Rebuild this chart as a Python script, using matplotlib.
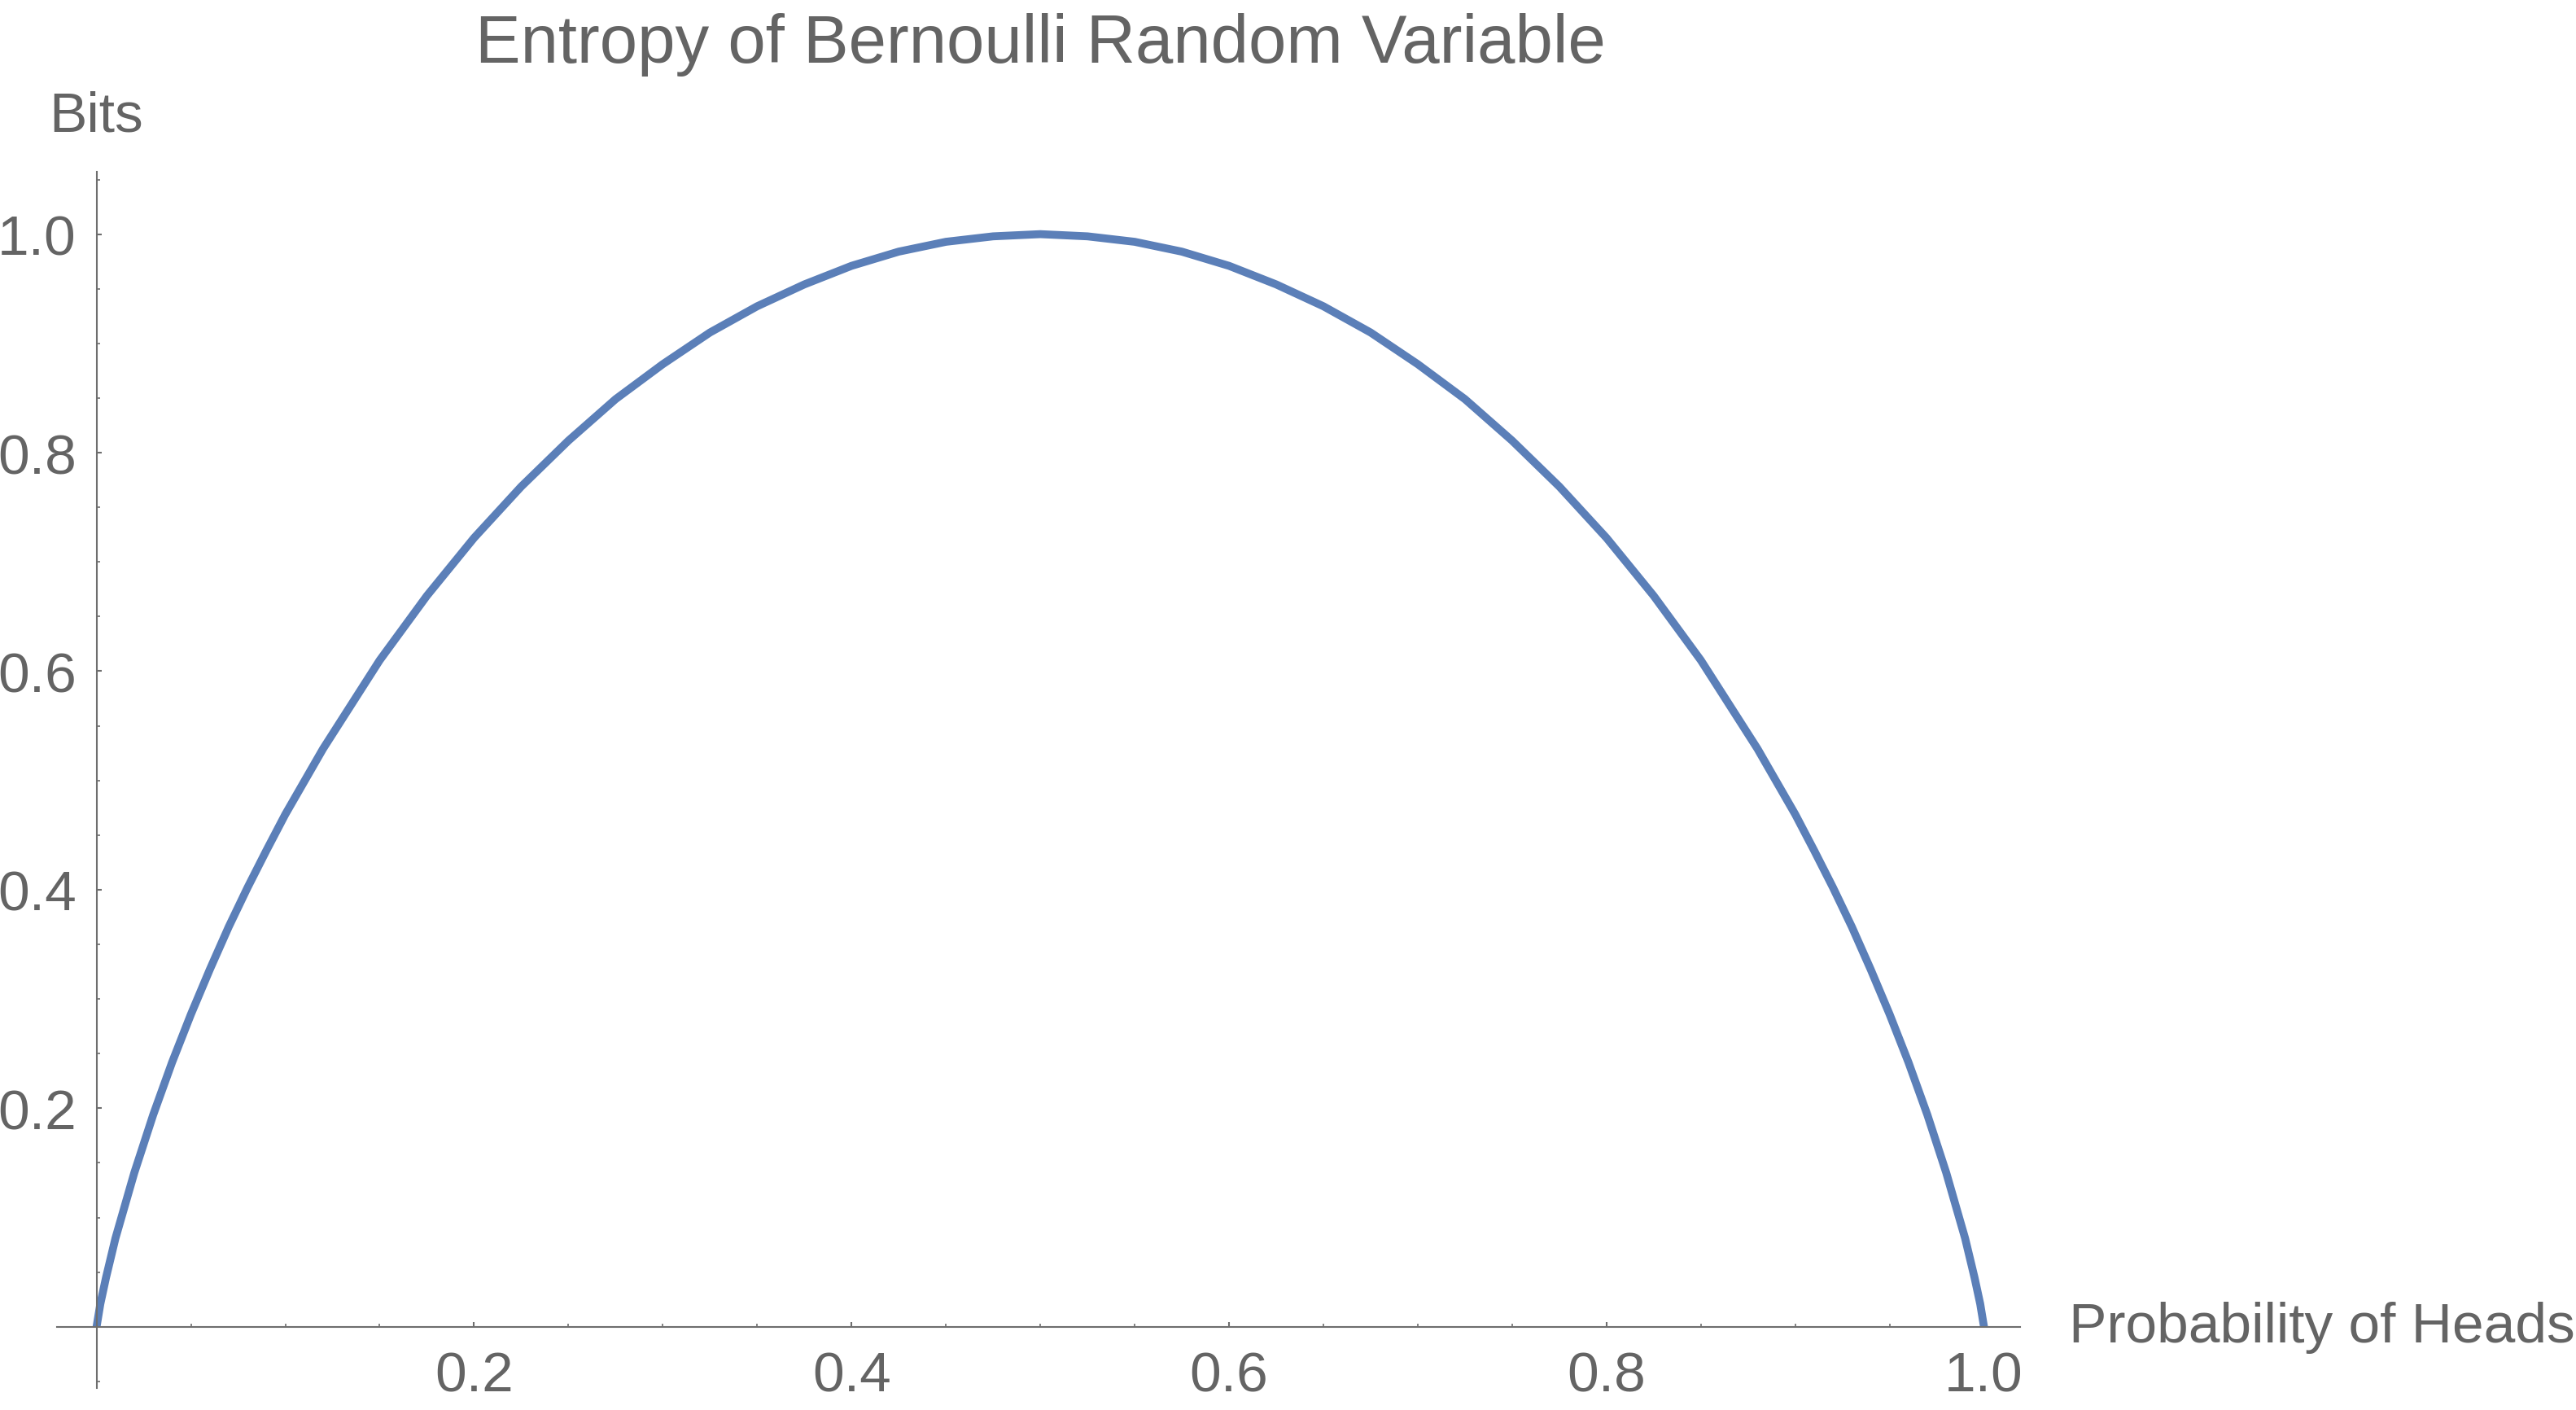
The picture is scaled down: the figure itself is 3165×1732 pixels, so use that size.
import matplotlib
matplotlib.use("Agg")
import matplotlib.pyplot as plt
from matplotlib.ticker import MultipleLocator, FixedLocator

# Data (probability of heads vs entropy in bits)
prob_heads = [0.0, 0.002, 0.005, 0.01, 0.02, 0.03, 0.04, 0.05, 0.06, 0.07, 0.08, 0.09,
              0.10, 0.12, 0.15, 0.175, 0.20, 0.225, 0.25, 0.275, 0.30, 0.325, 0.35,
              0.375, 0.40, 0.425, 0.45, 0.475, 0.50,
              0.525, 0.55, 0.575, 0.60, 0.625, 0.65, 0.675, 0.70, 0.725, 0.75, 0.775,
              0.80, 0.825, 0.85, 0.88, 0.90, 0.91, 0.92, 0.93, 0.94, 0.95, 0.96, 0.97,
              0.98, 0.99, 0.995, 0.998, 1.0]
entropy_bits = [0.0, 0.021, 0.045, 0.081, 0.141, 0.194, 0.242, 0.286, 0.327, 0.366, 0.402, 0.436,
                0.469, 0.529, 0.610, 0.669, 0.722, 0.769, 0.811, 0.849, 0.881, 0.910, 0.934,
                0.954, 0.971, 0.984, 0.993, 0.998, 1.000,
                0.998, 0.993, 0.984, 0.971, 0.954, 0.934, 0.910, 0.881, 0.849, 0.811, 0.769,
                0.722, 0.669, 0.610, 0.529, 0.469, 0.436, 0.402, 0.366, 0.327, 0.286, 0.242, 0.194,
                0.141, 0.081, 0.045, 0.021, 0.0]

x_tick_labels = ["0.2", "0.4", "0.6", "0.8", "1.0"]
y_tick_labels = ["0.2", "0.4", "0.6", "0.8", "1.0"]
title_text = "Entropy of Bernoulli Random Variable"
x_label = "Probability of Heads"
y_label = "Bits"

TEXT = "#646464"
AXC = "#6e6e6e"
LINE = "#5b7fb8"

plt.rcParams['font.family'] = ['Liberation Sans', 'DejaVu Sans']

fig = plt.figure(figsize=(31.65, 17.33), dpi=100)
ax = fig.add_axes([0.0221, 0.0156, 0.762, 0.862])

ax.plot(prob_heads, entropy_bits, color=LINE, lw=7, solid_capstyle='butt',
        solid_joinstyle='round', clip_on=False)

ax.set_xlim(-0.021, 1.019)
ax.set_ylim(-0.056, 1.057)

for s in ['top', 'right']:
    ax.spines[s].set_visible(False)
ax.spines['left'].set_position(('data', 0))
ax.spines['bottom'].set_position(('data', 0))
for s in ['left', 'bottom']:
    ax.spines[s].set_color(AXC)
    ax.spines[s].set_linewidth(1.5)

xt = [float(t) for t in x_tick_labels]
yt = [float(t) for t in y_tick_labels]
ax.xaxis.set_major_locator(FixedLocator(xt))
ax.yaxis.set_major_locator(FixedLocator(yt))
ax.set_xticklabels(x_tick_labels)
ax.set_yticklabels(y_tick_labels)
ax.xaxis.set_minor_locator(MultipleLocator(0.05))
ax.yaxis.set_minor_locator(MultipleLocator(0.05))

ax.tick_params(axis='both', which='major', direction='in', length=4.5, width=1.5,
               color=AXC, labelsize=50, labelcolor=TEXT)
ax.tick_params(axis='both', which='minor', direction='in', length=3, width=1.2, color=AXC)
ax.tick_params(axis='x', which='major', pad=21)
ax.tick_params(axis='y', which='major', pad=18)

ax.text(1.045, 0, x_label, ha='left', va='center', fontsize=50, color=TEXT, clip_on=False)
ax.text(-0.025, 1.095, y_label, ha='left', va='baseline', fontsize=50, color=TEXT, clip_on=False)
ax.text(0.5, 1.158, title_text, ha='center', va='baseline', fontsize=60, color=TEXT, clip_on=False)

fig.savefig("out.png", dpi=100, facecolor='white')
